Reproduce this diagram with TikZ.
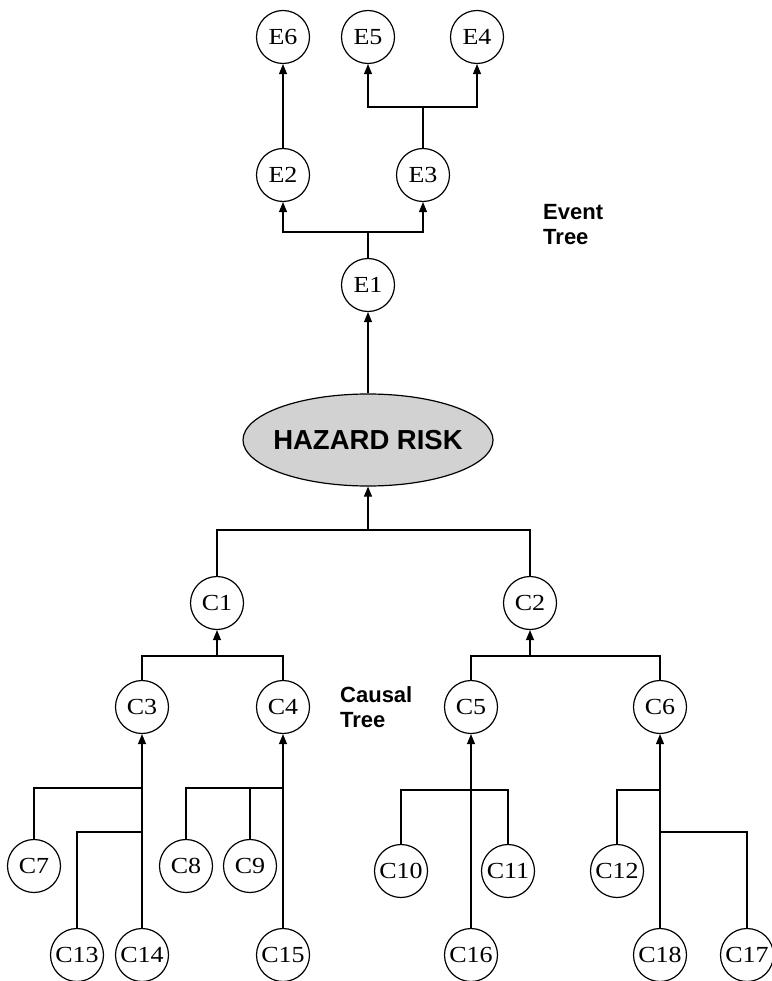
\documentclass[tikz,border=0pt]{standalone}
\usepackage{fontspec}
\setmainfont{Liberation Serif}
\newfontfamily\nodefont[FakeStretch=1.13]{Liberation Serif}
\newfontfamily\headfont{Liberation Sans}
\usetikzlibrary{arrows.meta,shapes.geometric}
\definecolor{riskfill}{RGB}{210,210,210}
\begin{document}
\begin{tikzpicture}[x=1pt,y=-1pt,
  ev/.style={circle,draw,line width=1.2pt,minimum size=53pt,inner sep=0pt,
             font=\nodefont\fontsize{23}{25}\selectfont},
  link/.style={line width=1.2pt},
  arr/.style={link,-{Triangle[length=10pt,width=8pt]}},
  tag/.style={font=\headfont\bfseries\fontsize{22}{25}\selectfont,
              anchor=base west,inner sep=0pt}]
\useasboundingbox (0,0) rectangle (771,981);

% event tree
\node[ev] (E6) at (283,37) {E6};
\node[ev] (E5) at (368,37) {E5};
\node[ev] (E4) at (477,37) {E4};
\node[ev] (E2) at (283,175) {E2};
\node[ev] (E3) at (423,175) {E3};
\node[ev] (E1) at (368,285) {E1};

% central hazard
\node[ellipse,draw,line width=1.2pt,fill=riskfill,minimum width=250pt,
      minimum height=92pt,inner sep=0pt] (H) at (368,440) {};
\node[font=\headfont\bfseries\fontsize{27.5}{29}\selectfont] (Htxt) at (H.center) {HAZARD RISK};

% causal tree
\node[ev] (C1) at (217,603) {C1};
\node[ev] (C2) at (530,603) {C2};
\node[ev] (C3) at (142,707) {C3};
\node[ev] (C4) at (283,707) {C4};
\node[ev] (C5) at (471,707) {C5};
\node[ev] (C6) at (660,707) {C6};
\node[ev] (C7) at (34,866) {C7};
\node[ev] (C8) at (186,866) {C8};
\node[ev] (C9) at (250,866) {C9};
\node[ev] (C10) at (401,871) {C10};
\node[ev] (C11) at (508,871) {C11};
\node[ev] (C12) at (617,871) {C12};
\node[ev] (C13) at (77,955) {C13};
\node[ev] (C14) at (142,955) {C14};
\node[ev] (C15) at (283,955) {C15};
\node[ev] (C16) at (471,955) {C16};
\node[ev] (C18) at (660,955) {C18};
\node[ev] (C17) at (747,955) {C17};

% labels
\node[tag] (evA) at (543,220) {Event};
\node[tag] (evB) at (543,245) {Tree};
\node[tag] (caA) at (340,702) {Causal};
\node[tag] (caB) at (340,727) {Tree};

% junction points
\coordinate (jE3) at (423,107);
\coordinate (jE1) at (368,232);
\coordinate (jH)  at (368,530);
\coordinate (jC1) at (217,656);
\coordinate (jC2) at (530,656);
\coordinate (jC3a) at (142,788);
\coordinate (jC3b) at (142,832);
\coordinate (jC4) at (283,788);
\coordinate (jC5) at (471,790);
\coordinate (jC6a) at (660,790);
\coordinate (jC6b) at (660,832);

% event tree connectors
\draw[arr] (E2.north) -- (E6.south);
\draw[link] (E3.north) -- (jE3);
\draw[arr] (jE3) -| (E5.south);
\draw[arr] (jE3) -| (E4.south);
\draw[link] (E1.north) -- (jE1);
\draw[arr] (jE1) -| (E2.south);
\draw[arr] (jE1) -| (E3.south);
\draw[arr] (H.north) -- (E1.south);

% causal tree connectors
\draw[link] (C1.north) |- (jH) -| (C2.north);
\draw[arr] (jH) -- (H.south);
\draw[link] (C3.north) |- (jC1) -| (C4.north);
\draw[arr] (jC1) -- (C1.south);
\draw[link] (C5.north) |- (jC2) -| (C6.north);
\draw[arr] (jC2) -- (C2.south);

\draw[arr] (C14.north) -- (C3.south);
\draw[link] (C7.north) |- (jC3a);
\draw[link] (C13.north) |- (jC3b);

\draw[arr] (C15.north) -- (C4.south);
\draw[link] (C8.north) |- (jC4);
\draw[link] (C9.north) -- (C9.north |- jC4);

\draw[arr] (C16.north) -- (C5.south);
\draw[link] (C10.north) |- (jC5) -| (C11.north);

\draw[arr] (C18.north) -- (C6.south);
\draw[link] (C12.north) |- (jC6a);
\draw[link] (C17.north) |- (jC6b);
\end{tikzpicture}
\end{document}
